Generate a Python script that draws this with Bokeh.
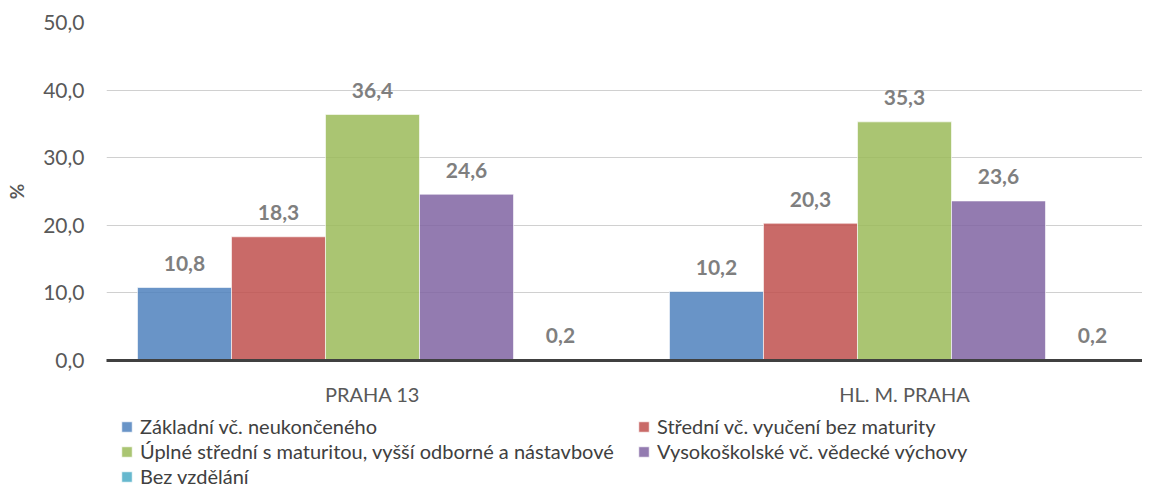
from bokeh.plotting import figure
from bokeh.layouts import column
from bokeh.models import (FixedTicker, Legend, LegendItem, ColumnDataSource, Range1d)
from bokeh.embed import file_html
from bokeh.resources import INLINE
from bokeh.core.properties import value

# ---- data ----
categories = ["PRAHA 13", "HL. M. PRAHA"]
series_names = [
    "Základní vč. neukončeného",
    "Střední vč. vyučení bez maturity",
    "Úplné střední s maturitou, vyšší odborné a nástavbové",
    "Vysokoškolské vč. vědecké výchovy",
    "Bez vzdělání",
]
zakladni = [10.8, 10.2]
stredni = [18.3, 20.3]
uplne = [36.4, 35.3]
vysokoskolske = [24.6, 23.6]
bez_vzdelani = [0.2, 0.2]
y_ticks = [0, 10, 20, 30, 40, 50]

series_values = [zakladni, stredni, uplne, vysokoskolske, bez_vzdelani]
colors = ["#4F81BD", "#C0504D", "#9BBB59", "#8064A2", "#4BACC6"]

FONT = "Lato"
W = 1142

p = figure(width=W, height=410, output_backend="svg", toolbar_location=None,
           x_range=Range1d(0, 1.9474), y_range=Range1d(0, 50),
           min_border_left=106, min_border_right=0, min_border_top=22,
           min_border_bottom=50, outline_line_color=None)

bar_w = 0.1767
centers = [i + 0.5 for i in range(len(categories))]
for k, (name, vals, col) in enumerate(zip(series_names, series_values, colors)):
    xs = [c + (k - 2) * bar_w for c in centers]
    src = ColumnDataSource(dict(
        x=xs, top=vals,
        lab=[f"{v:.1f}".replace(".", ",") for v in vals]))
    p.vbar(x="x", top="top", width=bar_w, source=src,
           fill_color=col, fill_alpha=0.85,
           line_color="white", line_alpha=0.6, line_width=1)
    p.text(x="x", y="top", text="lab", source=src,
           text_align="center", text_baseline="middle", y_offset=-24,
           text_font=value(FONT), text_font_style="bold",
           text_font_size="21px", text_color="#7F7F7F")

# y axis
p.yaxis.ticker = FixedTicker(ticks=y_ticks)
p.yaxis.major_label_overrides = {t: f"{t:.1f}".replace(".", ",") for t in y_ticks}
p.yaxis.axis_line_color = None
p.yaxis.major_tick_line_color = None
p.yaxis.minor_tick_line_color = None
p.yaxis.major_tick_out = 0
p.yaxis.minor_tick_out = 0
p.yaxis.major_tick_in = 0
p.yaxis.major_label_standoff = 22
p.yaxis.major_label_text_font = FONT
p.yaxis.major_label_text_font_size = "21px"
p.yaxis.major_label_text_color = "#595959"
p.yaxis.axis_label = "%"
p.yaxis.axis_label_text_font = FONT
p.yaxis.axis_label_text_font_style = "bold"
p.yaxis.axis_label_text_font_size = "19px"
p.yaxis.axis_label_text_color = "#595959"
p.yaxis.axis_label_standoff = 12

# x axis
p.xaxis.ticker = FixedTicker(ticks=centers)
p.xaxis.major_label_overrides = {c: n for c, n in zip(centers, categories)}
p.xaxis.axis_line_color = "#404040"
p.xaxis.axis_line_width = 3
p.xaxis.major_tick_line_color = None
p.xaxis.minor_tick_line_color = None
p.xaxis.major_tick_out = 0
p.xaxis.minor_tick_out = 0
p.xaxis.major_tick_in = 0
p.xaxis.major_label_standoff = 21
p.xaxis.major_label_text_font = FONT
p.xaxis.major_label_text_font_size = "20px"
p.xaxis.major_label_text_color = "#595959"

p.xgrid.grid_line_color = None
p.ygrid.grid_line_color = "#D0D0D0"
p.ygrid.grid_line_width = 1

# legend in its own strip below the chart (frame aligned with the chart's)
lg = figure(width=W, height=78, output_backend="svg", toolbar_location=None,
            x_range=Range1d(0, 1), y_range=Range1d(0, 1),
            x_axis_type=None, y_axis_type=None,
            min_border_left=106, min_border_right=0, min_border_top=0,
            min_border_bottom=0, outline_line_color=None)
items = []
for name, col in zip(series_names, colors):
    # a single off-screen bar so the legend swatch has data to draw from
    r = lg.vbar(x=[10], top=[1], width=0.1, fill_color=col, fill_alpha=0.85,
                line_color="white", line_alpha=0.6, line_width=1)
    items.append(LegendItem(label=name, renderers=[r]))

legend = Legend(items=items, location=(14, 0), orientation="horizontal", ncols=2,
                border_line_color=None, background_fill_alpha=0,
                padding=0, margin=0, spacing=1,
                glyph_width=13, glyph_height=13, label_height=20,
                label_standoff=7, label_width=496,
                label_text_font=FONT, label_text_font_size="20px",
                label_text_color="#404040")
lg.add_layout(legend, "center")

layout = column(p, lg, spacing=0)
open("out.html", "w").write(file_html(layout, INLINE))
